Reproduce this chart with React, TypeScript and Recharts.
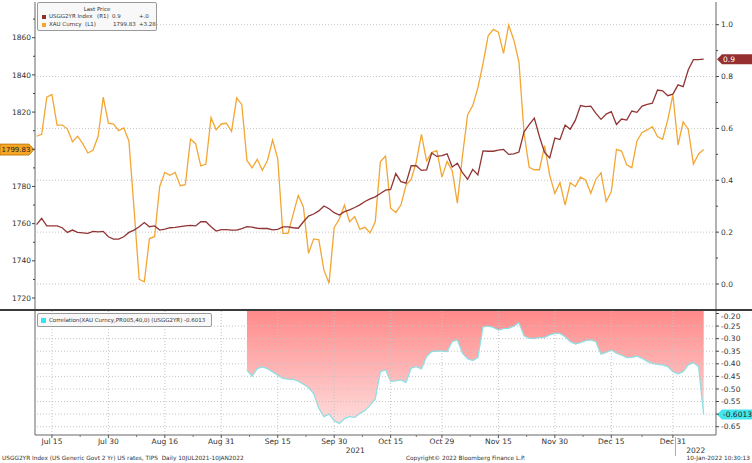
import React from "react";
import {
  ComposedChart,
  Line,
  Area,
  XAxis,
  YAxis,
  ReferenceLine,
  ReferenceDot,
} from "recharts";

// weekday index 0 = 12 Jul 2021 ... 130 = 10 Jan 2022
const xau = [
  1807, 1808, 1828, 1829.5, 1813, 1813, 1811, 1804, 1807, 1803,
  1798, 1799.5, 1807, 1828, 1814, 1813.5, 1810, 1811.5, 1804.5, 1768,
  1730, 1728.7, 1752, 1753, 1780, 1787.6, 1786, 1787.6, 1780.4, 1781,
  1805.5, 1803, 1791, 1792, 1817, 1810.5, 1813.6, 1814, 1809.6, 1827.6,
  1824, 1794, 1790, 1794.6, 1788.7, 1794, 1805, 1794.8, 1754.8, 1754.8,
  1765, 1775.2, 1769, 1744, 1751.8, 1751.3, 1735, 1728, 1758, 1762.5,
  1770, 1761, 1763.8, 1757, 1758, 1755, 1761, 1793.3, 1796.4, 1768.3,
  1766, 1770, 1780.8, 1783.8, 1793.3, 1808, 1793.7, 1798.2, 1799.3, 1785,
  1793.5, 1788.5, 1771, 1796.5, 1818.6, 1823.5, 1833, 1846, 1861, 1864.5,
  1863, 1851.6, 1866.8, 1858.8, 1847, 1808.6, 1790.3, 1789, 1789, 1802,
  1786, 1776.3, 1782, 1770, 1782, 1779.9, 1785, 1783.5, 1776.3, 1783.9,
  1787.4, 1771.9, 1777.2, 1800, 1799, 1791.6, 1790.1, 1804.5, 1809, 1810.4,
  1812.2, 1806.8, 1805.4, 1815.8, 1829.2, 1802.3, 1814.8, 1810.7, 1792, 1797.5,
  1799.83,
];

const usgg2yr = [
  0.229, 0.253, 0.224, 0.224, 0.224, 0.217, 0.199, 0.208, 0.199, 0.197,
  0.195, 0.203, 0.201, 0.203, 0.182, 0.173, 0.173, 0.182, 0.199, 0.208,
  0.221, 0.237, 0.221, 0.224, 0.208, 0.212, 0.217, 0.218, 0.221, 0.224,
  0.226, 0.224, 0.24, 0.24, 0.221, 0.204, 0.21, 0.21, 0.208, 0.208,
  0.214, 0.221, 0.219, 0.215, 0.214, 0.214, 0.209, 0.211, 0.22, 0.22,
  0.217, 0.215, 0.24, 0.262, 0.27, 0.282, 0.301, 0.29, 0.275, 0.266,
  0.279, 0.286, 0.295, 0.305, 0.318, 0.328, 0.336, 0.349, 0.362, 0.365,
  0.426, 0.395, 0.389, 0.456, 0.456, 0.438, 0.44, 0.505, 0.492, 0.495,
  0.502, 0.451, 0.466, 0.429, 0.404, 0.442, 0.421, 0.513, 0.512, 0.512,
  0.516, 0.519, 0.5, 0.502, 0.509, 0.587, 0.615, 0.64, 0.568, 0.507,
  0.486, 0.563, 0.557, 0.613, 0.597, 0.632, 0.688, 0.684, 0.686, 0.658,
  0.635, 0.655, 0.665, 0.615, 0.636, 0.632, 0.667, 0.662, 0.686, 0.693,
  0.697, 0.748, 0.745, 0.726, 0.732, 0.768, 0.761, 0.826, 0.865, 0.865,
  0.867,
];

// 40-day correlation, first value at weekday index 41
const corrStart = 41;
const corr = [
  -0.425, -0.449, -0.419, -0.412, -0.419, -0.432, -0.445, -0.458, -0.461,
  -0.462, -0.469, -0.481, -0.494, -0.518, -0.577, -0.61, -0.6, -0.626, -0.637,
  -0.618, -0.61, -0.613, -0.597, -0.586, -0.564, -0.54, -0.431, -0.424, -0.47,
  -0.468, -0.464, -0.474, -0.417, -0.411, -0.42, -0.371, -0.351, -0.349, -0.349,
  -0.351, -0.312, -0.305, -0.358, -0.38, -0.387, -0.375, -0.253, -0.25, -0.255,
  -0.266, -0.26, -0.259, -0.25, -0.237, -0.289, -0.299, -0.299, -0.296, -0.295,
  -0.285, -0.279, -0.279, -0.292, -0.312, -0.321, -0.316, -0.308, -0.305, -0.312,
  -0.362, -0.355, -0.345, -0.358, -0.365, -0.375, -0.374, -0.369, -0.378, -0.39,
  -0.398, -0.402, -0.404, -0.411, -0.431, -0.44, -0.431, -0.404, -0.395, -0.411,
  -0.6013,
];

const dateTicks = [3, 14, 25, 36, 47, 58, 69, 79, 90, 101, 112, 124];
const dateLabels = ["Jul 15", "Jul 30", "Aug 16", "Aug 31", "Sep 15", "Sep 30", "Oct 15", "Oct 29", "Nov 15", "Nov 30", "Dec 15", "Dec 31"];
const minorDateTicks = [8.5, 19.5, 30.5, 41.5, 52.5, 63.5, 74, 84.5, 95.5, 106.5, 118];
const yearBreak = 124.5;
const yearLabels = ["2021", "2022"];

const xauTicks = [1720, 1730, 1740, 1750, 1760, 1770, 1780, 1790, 1800, 1810, 1820, 1830, 1840, 1850, 1860, 1870];
const rateTicks = [0, 0.1, 0.2, 0.3, 0.4, 0.5, 0.6, 0.7, 0.8, 0.9, 1.0];
const rateGrid = [0, 0.2, 0.4, 0.6, 0.8, 1.0];
const corrTicks = [-0.65, -0.6, -0.55, -0.5, -0.45, -0.4, -0.35, -0.3, -0.25, -0.2];
const corrGrid = [-0.65, -0.6, -0.55, -0.5, -0.45, -0.4, -0.35, -0.3, -0.25];

const X_DOMAIN: [number, number] = [-0.3, 132.4];
const XAU_DOMAIN: [number, number] = [1714.1, 1879.2];
const RATE_DOMAIN: [number, number] = [-0.0964, 1.0875];
const CORR_DOMAIN: [number, number] = [-0.683, -0.19];

const yearCenters = [(X_DOMAIN[0] + yearBreak) / 2, (yearBreak + X_DOMAIN[1]) / 2];

const rows = xau.map((v, i) => ({
  i,
  xau: v,
  usgg: usgg2yr[i],
  corr: i >= corrStart ? corr[i - corrStart] : null,
}));

const lastXau = xau[xau.length - 1];
const lastRate = usgg2yr[usgg2yr.length - 1];
const lastCorr = corr[corr.length - 1];

const FONT = "'DejaVu Sans', Verdana, sans-serif";
const AXIS = "#666";
const GRID = "#c4c4c4";
const TXT = "#333";
const GOLD = "#f3a633";
const MAROON = "#913434";
const CYAN = "#8edfe3";

function LeftTick({ x, y, payload }: any) {
  const v = payload.value;
  const major = v % 20 === 0;
  // the last-price tag sits on top of the nearest label
  const hidden = Math.abs(v - lastXau) < 6;
  return (
    <g>
      <line x1={x - (major ? 3 : 2)} x2={x} y1={y} y2={y} stroke="#444" />
      {major && !hidden && (
        <text x={x - 4} y={y} dy="0.35em" textAnchor="end" fontSize={7.5} fontFamily={FONT} fill={TXT}>
          {v}
        </text>
      )}
    </g>
  );
}

function RateTick({ x, y, payload }: any) {
  const v = payload.value;
  const major = Math.round(v * 10) % 2 === 0;
  return (
    <g>
      <line x1={x} x2={x + (major ? 3 : 2)} y1={y} y2={y} stroke="#444" />
      {major && (
        <text x={x + 5} y={y} dy="0.35em" fontSize={7.5} fontFamily={FONT} fill={TXT}>
          {v.toFixed(1)}
        </text>
      )}
    </g>
  );
}

function CorrTick({ x, y, payload }: any) {
  const v = payload.value;
  const hidden = Math.abs(v - lastCorr) < 0.02;
  return (
    <g>
      <line x1={x} x2={x + 3} y1={y} y2={y} stroke="#444" />
      {!hidden && (
        <text x={x + 5} y={v > -0.21 ? y + 2.5 : y} dy="0.35em" fontSize={7.5} fontFamily={FONT} fill={TXT}>
          {v.toFixed(2)}
        </text>
      )}
    </g>
  );
}

function DateTick({ x, y, payload }: any) {
  const v = payload.value;
  const k = dateTicks.indexOf(v);
  if (k >= 0) {
    return (
      <g>
        <line x1={x} x2={x} y1={y} y2={y + 3} stroke="#555" />
        <text x={x} y={y + 9} textAnchor="middle" fontSize={7.5} fontFamily={FONT} fill={TXT}>
          {dateLabels[k]}
        </text>
      </g>
    );
  }
  if (v === yearBreak) {
    return <line x1={x} x2={x} y1={y + 2} y2={y + 21} stroke="#aaa" />;
  }
  const yk = yearCenters.indexOf(v);
  if (yk >= 0) {
    return (
      <text x={x} y={y + 18} textAnchor="middle" fontSize={7.5} fontFamily={FONT} fill={TXT}>
        {yearLabels[yk]}
      </text>
    );
  }
  return <line x1={x} x2={x} y1={y} y2={y + 2} stroke="#777" />;
}

function LeftTag({ cy, text }: any) {
  return (
    <g>
      <polygon
        points={`0,${cy - 5.5} 29,${cy - 5.5} 34,${cy} 29,${cy + 5.5} 0,${cy + 5.5}`}
        fill="#f6a524"
        stroke="#b87400"
        strokeWidth={0.8}
      />
      <text x={1.5} y={cy} dy="0.35em" fontSize={7} fontFamily={FONT} fill="#222">
        {text}
      </text>
    </g>
  );
}

function RightTag({ cy, text, fill, color }: any) {
  return (
    <g>
      <polygon
        points={`717,${cy} 722,${cy - 5} 752,${cy - 5} 752,${cy + 5} 722,${cy + 5}`}
        fill={fill}
      />
      <text x={723} y={cy} dy="0.35em" fontSize={7.5} fontFamily={FONT} fill={color}>
        {text}
      </text>
    </g>
  );
}

const small: React.CSSProperties = {
  position: "absolute",
  fontFamily: FONT,
  fontSize: 5.8,
  color: TXT,
  whiteSpace: "nowrap",
  lineHeight: "7px",
};
const legendText: React.CSSProperties = { ...small, fontSize: 5.5 };

export default function App() {
  const last = rows.length - 1;
  return (
    <div style={{ position: "absolute", left: 0, top: 0, width: 752, height: 463, background: "#fff", overflow: "hidden" }}>
      <div style={{ position: "absolute", left: 0, top: 0 }}>
        <ComposedChart width={752} height={310} data={rows} margin={{ top: 2, right: 0, bottom: 1, left: 0 }}>
          <XAxis type="number" dataKey="i" domain={X_DOMAIN} allowDataOverflow hide />
          <YAxis
            yAxisId="left"
            orientation="left"
            width={35}
            type="number"
            domain={XAU_DOMAIN}
            allowDataOverflow
            ticks={xauTicks}
            interval={0}
            tickSize={0}
            tickMargin={0}
            tickLine={false}
            axisLine={{ stroke: AXIS }}
            tick={(p: any) => <LeftTick {...p} />}
          />
          <YAxis
            yAxisId="right"
            orientation="right"
            width={36}
            type="number"
            domain={RATE_DOMAIN}
            allowDataOverflow
            ticks={rateTicks}
            interval={0}
            tickSize={0}
            tickMargin={0}
            tickLine={false}
            axisLine={{ stroke: AXIS }}
            tick={(p: any) => <RateTick {...p} />}
          />
          {rateGrid.map((v) => (
            <ReferenceLine key={v} yAxisId="right" y={v} stroke={GRID} strokeDasharray="1 2" />
          ))}
          <Line yAxisId="left" type="linear" dataKey="xau" stroke={GOLD} strokeWidth={1.3} dot={false} isAnimationActive={false} />
          <Line yAxisId="right" type="linear" dataKey="usgg" stroke={MAROON} strokeWidth={1.3} dot={false} isAnimationActive={false} />
          <ReferenceDot
            yAxisId="left"
            x={last}
            y={lastXau}
            ifOverflow="visible"
            shape={(p: any) => <LeftTag cy={p.cy} text={lastXau.toFixed(2)} />}
          />
          <ReferenceDot
            yAxisId="right"
            x={last}
            y={lastRate}
            ifOverflow="visible"
            shape={(p: any) => <RightTag cy={p.cy} text={lastRate.toFixed(1)} fill="#962f2f" color="#fff" />}
          />
        </ComposedChart>
      </div>

      <div style={{ position: "absolute", left: 0, top: 310 }}>
        <ComposedChart width={752} height={153} data={rows} margin={{ top: 1, right: 0, bottom: 0, left: 0 }}>
          <defs>
            <linearGradient id="corrFill" x1="0" y1="0" x2="0" y2="1">
              <stop offset="0%" stopColor="#ff8a8a" />
              <stop offset="100%" stopColor="#ffdcdc" />
            </linearGradient>
          </defs>
          <XAxis
            type="number"
            dataKey="i"
            domain={X_DOMAIN}
            allowDataOverflow
            height={28}
            ticks={[...dateTicks, ...minorDateTicks, yearBreak, ...yearCenters]}
            interval={0}
            tickSize={0}
            tickMargin={0}
            tickLine={false}
            axisLine={{ stroke: AXIS }}
            tick={(p: any) => <DateTick {...p} />}
          />
          <YAxis yAxisId="l" orientation="left" width={35} type="number" domain={CORR_DOMAIN} allowDataOverflow tick={false} tickLine={false} axisLine={{ stroke: AXIS }} />
          <YAxis
            yAxisId="r"
            orientation="right"
            width={36}
            type="number"
            domain={CORR_DOMAIN}
            allowDataOverflow
            ticks={corrTicks}
            interval={0}
            tickSize={0}
            tickMargin={0}
            tickLine={false}
            axisLine={{ stroke: AXIS }}
            tick={(p: any) => <CorrTick {...p} />}
          />
          <Area
            yAxisId="r"
            type="linear"
            dataKey="corr"
            baseValue={CORR_DOMAIN[1]}
            stroke={CYAN}
            strokeWidth={1.3}
            fill="url(#corrFill)"
            fillOpacity={1}
            dot={false}
            activeDot={false}
            isAnimationActive={false}
          />
          {corrGrid.map((v) => (
            <ReferenceLine key={v} yAxisId="r" y={v} stroke={GRID} strokeDasharray="1 2" />
          ))}
          {dateTicks.map((v) => (
            <ReferenceLine key={"x" + v} yAxisId="r" x={v} stroke={GRID} strokeDasharray="1 2" />
          ))}
          <ReferenceDot
            yAxisId="r"
            x={last}
            y={lastCorr}
            ifOverflow="visible"
            shape={(p: any) => <RightTag cy={p.cy} text={lastCorr.toFixed(4)} fill="#44e6ee" color="#222" />}
          />
        </ComposedChart>
      </div>

      {/* panel divider */}
      <div style={{ position: "absolute", left: 0, top: 309, width: 752, height: 2, background: "#3a3a3a" }} />

      {/* upper legend */}
      <div
        style={{
          position: "absolute",
          left: 37,
          top: 2,
          width: 118,
          height: 27,
          border: "1px solid #9a9a9a",
          borderRadius: 2,
          background: "rgba(248,248,248,0.96)",
        }}
      >
        <div style={{ ...legendText, left: 0, width: 118, top: 3, textAlign: "center" }}>Last Price</div>
        <div style={{ position: "absolute", left: 4, top: 11.5, width: 4, height: 4, background: "#8e2d2d" }} />
        <div style={{ ...legendText, left: 11, top: 10 }}>USGG2YR Index</div>
        <div style={{ ...legendText, left: 59, top: 10 }}>(R1)</div>
        <div style={{ ...legendText, left: 74, top: 10 }}>0.9</div>
        <div style={{ ...legendText, left: 101, top: 10 }}>+.0</div>
        <div style={{ position: "absolute", left: 4, top: 19.5, width: 4, height: 4, background: "#f6a524" }} />
        <div style={{ ...legendText, left: 11, top: 18 }}>XAU Curncy</div>
        <div style={{ ...legendText, left: 47, top: 18 }}>(L1)</div>
        <div style={{ ...legendText, left: 75, top: 18 }}>1799.83</div>
        <div style={{ ...legendText, left: 101, top: 18 }}>+3.28</div>
      </div>

      {/* lower legend */}
      <div
        style={{
          position: "absolute",
          left: 37,
          top: 313,
          width: 173,
          height: 12,
          border: "1px solid #9a9a9a",
          borderRadius: 2,
          background: "rgba(248,248,248,0.96)",
        }}
      >
        <div style={{ position: "absolute", left: 3, top: 4, width: 5, height: 5, background: "#35e4ee" }} />
        <div style={{ ...legendText, left: 11, top: 2.5 }}>Correlation(XAU Curncy,PR005,40,0) (USGG2YR) -0.6013</div>
      </div>

      {/* footer */}
      <div style={{ ...small, left: 2, top: 455 }}>
        USGG2YR Index (US Generic Govt 2 Yr) US rates, TIPS&nbsp; Daily 10JUL2021-10JAN2022
      </div>
      <div style={{ ...small, left: 406, top: 455 }}>Copyright© 2022 Bloomberg Finance L.P.</div>
      <div style={{ ...small, right: 2, top: 455 }}>10-Jan-2022 10:30:13</div>
    </div>
  );
}
